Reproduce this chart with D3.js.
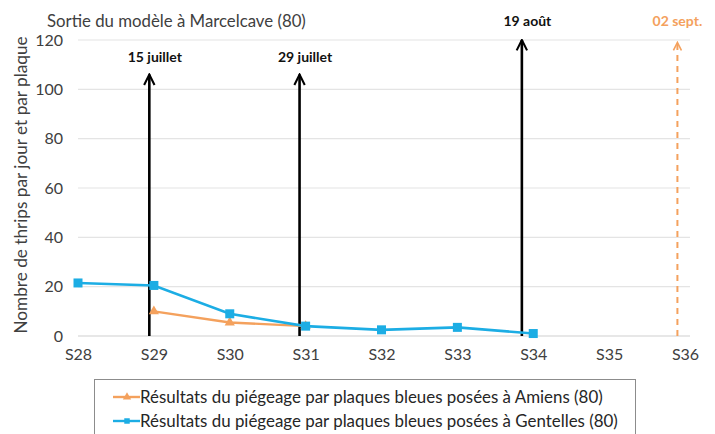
<!DOCTYPE html>
<html lang="fr">
<head>
<meta charset="UTF-8">
<title>Sortie du modèle à Marcelcave (80)</title>
<style>
  body { margin: 0; background: #fff; }
  svg text { font-family: Lato, "Open Sans", sans-serif; }
</style>
</head>
<body>
<script src="https://d3js.org/d3.v7.min.js"></script>
<script>
// semaines (axe x)
const weeks = [28, 29, 30, 31, 32, 33, 34, 35, 36]
const yTicks = [0, 20, 40, 60, 80, 100, 120]

// piégeage Gentelles (bleu)
const gentellesWeeks = [28, 29, 30, 31, 32, 33, 34]
const gentellesValues = [21.5, 20.5, 9, 4, 2.5, 3.5, 1]

// piégeage Amiens (orange)
const amiensWeeks = [29, 30, 31]
const amiensValues = [10, 5.5, 4]

// sorties du modèle (flèches)
const arrowLabels = ['15 juillet', '29 juillet', '19 août', '02 sept.']
const arrowWeeks = [28.94, 30.92, 33.85, 35.9]
const arrowTops = [106, 106, 120, 119]
const arrowModel = [false, false, false, true] // dernière = prévision

const m = { width: 715, height: 434 }
const blue = '#1cade4'
const orange = '#f4a15d'

const svg = d3.select('body').append('svg')
    .attr('width', m.width)
    .attr('height', m.height)

const x = d3.scaleLinear().domain([28, 36]).range([78, 685])
const y = d3.scaleLinear().domain([0, 120]).range([336, 40])

// grille
svg.append('g')
  .selectAll('line')
  .data(yTicks)
  .enter()
  .append('line')
    .attr('x1', x(28))
    .attr('x2', 690)
    .attr('y1', d => y(d))
    .attr('y2', d => y(d))
    .attr('stroke', d => d === 0 ? '#d0d0d0' : '#e4e4e4')
    .attr('stroke-width', 1.2)

// axes
const yAxis = svg.append('g')
    .attr('transform', `translate(${x(28)},0)`)
    .call(d3.axisLeft(y).tickValues(yTicks).tickSize(0).tickPadding(15))
yAxis.select('.domain').remove()
yAxis.selectAll('text').attr('font-size', 16).attr('fill', '#404040')

const xAxis = svg.append('g')
    .attr('transform', `translate(0,${y(0)})`)
    .call(d3.axisBottom(x).tickValues(weeks).tickSize(0).tickPadding(13).tickFormat(d => 'S' + d))
xAxis.select('.domain').remove()
xAxis.selectAll('text').attr('font-size', 16).attr('fill', '#404040')

// titre et libellé y
svg.append('text')
    .attr('x', 47).attr('y', 27)
    .attr('font-size', 16.8)
    .attr('fill', '#404040')
    .text('Sortie du modèle à Marcelcave (80)')

svg.append('text')
    .attr('transform', 'translate(27,185) rotate(-90)')
    .attr('text-anchor', 'middle')
    .attr('font-size', 17.2)
    .attr('fill', '#404040')
    .text('Nombre de thrips par jour et par plaque')

// flèches
const defs = svg.append('defs')
function marker(id, color) {
  defs.append('marker')
      .attr('id', id)
      .attr('viewBox', '0 0 10 10')
      .attr('refX', 9).attr('refY', 5)
      .attr('markerWidth', 5).attr('markerHeight', 5)
      .attr('markerUnits', 'strokeWidth')
      .attr('orient', 'auto')
    .append('path')
      .attr('d', 'M1,1 L9,5 L1,9')
      .attr('fill', 'none')
      .attr('stroke', color)
      .attr('stroke-width', 1.6)
      .attr('stroke-linejoin', 'miter')
}
marker('arrBlack', '#000')
marker('arrOrange', orange)

const arrows = arrowWeeks.map((w, i) => ({ w: w, top: arrowTops[i], label: arrowLabels[i], model: arrowModel[i] }))

svg.append('g')
  .selectAll('line')
  .data(arrows)
  .enter()
  .append('line')
    .attr('x1', d => x(d.w))
    .attr('x2', d => x(d.w))
    .attr('y1', y(0))
    .attr('y2', d => y(d.top))
    .attr('stroke', d => d.model ? orange : '#000')
    .attr('stroke-width', d => d.model ? 2 : 2.6)
    .attr('stroke-dasharray', d => d.model ? '6,5' : null)
    .attr('marker-end', d => d.model ? 'url(#arrOrange)' : 'url(#arrBlack)')

svg.append('g')
  .selectAll('text')
  .data(arrows)
  .enter()
  .append('text')
    .attr('x', d => x(d.w) + (d.model ? 0 : 5.5))
    .attr('y', d => d.top > 110 ? 26 : 62)
    .attr('text-anchor', 'middle')
    .attr('font-size', 14)
    .attr('font-weight', 'bold')
    .attr('fill', d => d.model ? orange : '#111')
    .text(d => d.label)

// séries
const line = d3.line().x(d => x(d[0])).y(d => y(d[1]))
const amiens = amiensWeeks.map((w, i) => [w, amiensValues[i]])
const gentelles = gentellesWeeks.map((w, i) => [w, gentellesValues[i]])

svg.append('path')
    .datum(amiens)
    .attr('d', line)
    .attr('fill', 'none')
    .attr('stroke', orange)
    .attr('stroke-width', 2.4)

svg.append('g')
  .selectAll('path')
  .data(amiens)
  .enter()
  .append('path')
    .attr('transform', d => `translate(${x(d[0])},${y(d[1])})`)
    .attr('d', d3.symbol().type(d3.symbolTriangle).size(45))
    .attr('fill', orange)

svg.append('path')
    .datum(gentelles)
    .attr('d', line)
    .attr('fill', 'none')
    .attr('stroke', blue)
    .attr('stroke-width', 2.6)

svg.append('g')
  .selectAll('rect')
  .data(gentelles)
  .enter()
  .append('rect')
    .attr('x', d => x(d[0]) - 4.5)
    .attr('y', d => y(d[1]) - 4.5)
    .attr('width', 9)
    .attr('height', 9)
    .attr('fill', blue)

// légende
const legendItems = [
  { label: 'Résultats du piégeage par plaques bleues posées à Amiens (80)', color: orange, sym: 'tri' },
  { label: 'Résultats du piégeage par plaques bleues posées à Gentelles (80)', color: blue, sym: 'sq' }
]

svg.append('rect')
    .attr('x', 94.5).attr('y', 379.5)
    .attr('width', 541).attr('height', 70)
    .attr('fill', '#fff')
    .attr('stroke', '#8c8c8c')
    .attr('stroke-width', 1)

const lg = svg.append('g')
  .selectAll('g')
  .data(legendItems)
  .enter()
  .append('g')
    .attr('transform', (d, i) => `translate(0,${397 + i * 24})`)

lg.append('line')
    .attr('x1', 113).attr('x2', 140)
    .attr('stroke', d => d.color)
    .attr('stroke-width', 2.4)

lg.append('path')
    .attr('transform', 'translate(127,0)')
    .attr('d', d => d3.symbol().type(d.sym === 'tri' ? d3.symbolTriangle : d3.symbolSquare).size(30)())
    .attr('fill', d => d.color)

lg.append('text')
    .attr('x', 140)
    .attr('dy', '0.35em')
    .attr('font-size', 16.9)
    .attr('fill', '#262626')
    .text(d => d.label)
</script>
</body>
</html>
